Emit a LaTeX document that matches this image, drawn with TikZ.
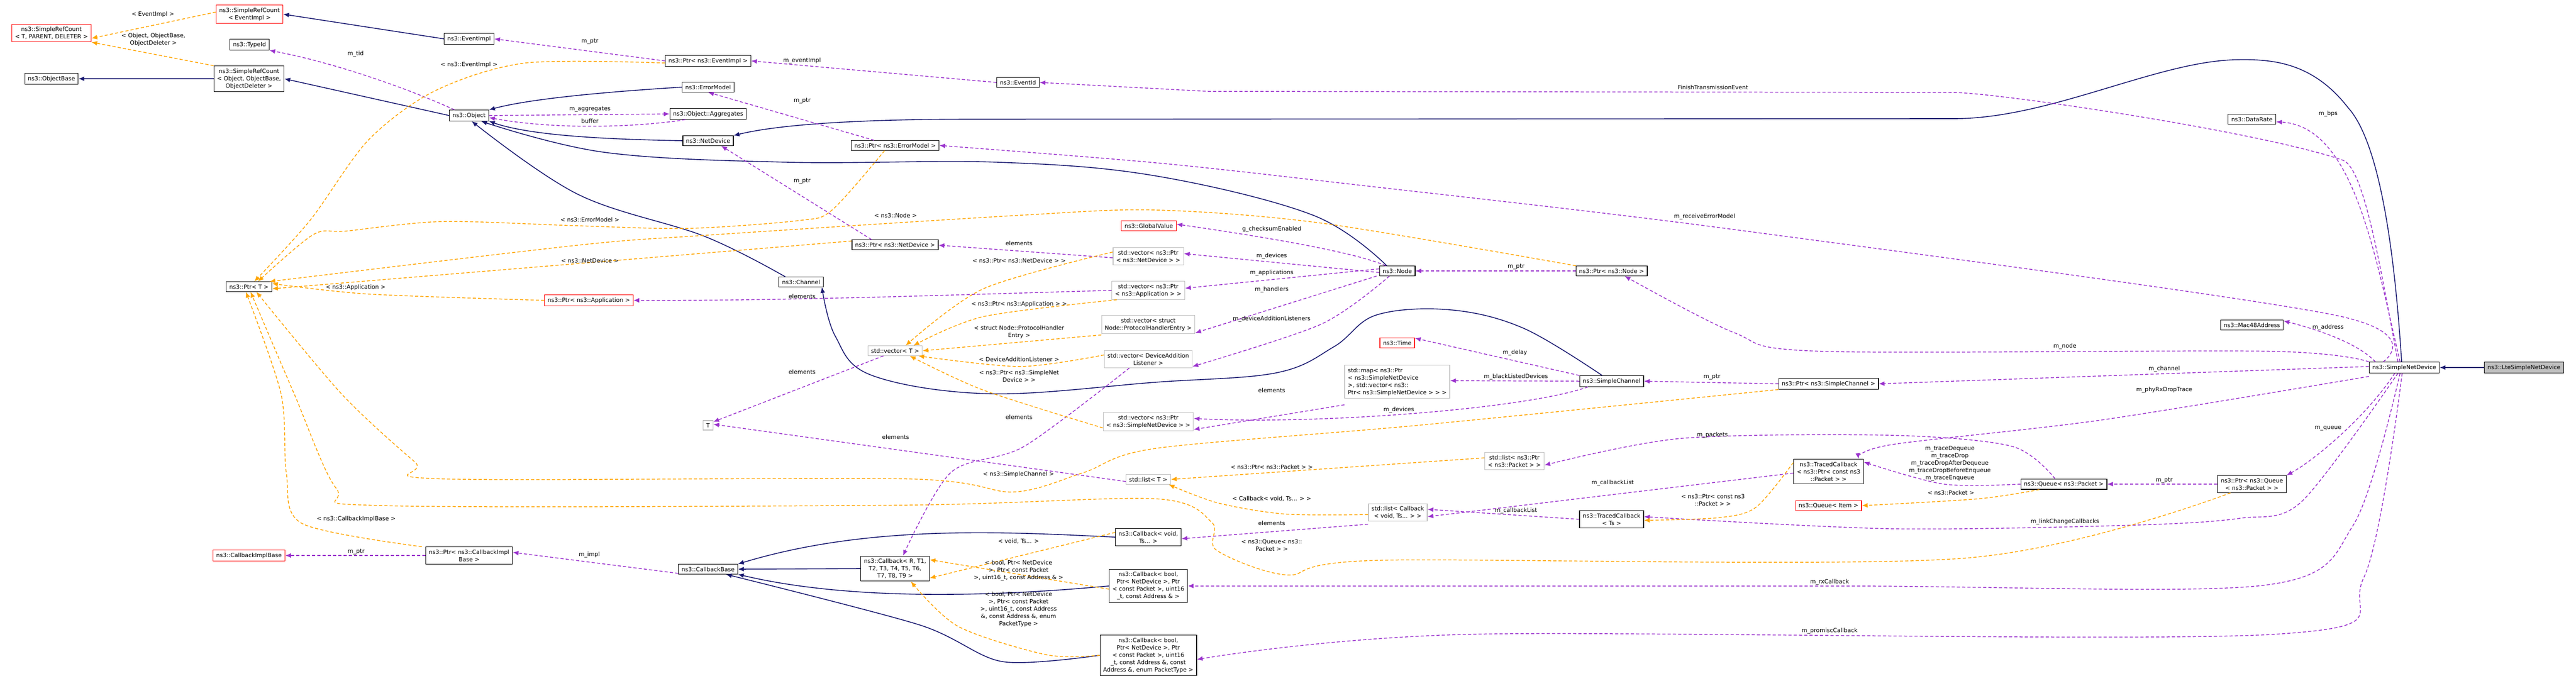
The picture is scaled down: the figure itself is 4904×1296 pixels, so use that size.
\documentclass[tikz,border=0pt]{standalone}
\usepackage{fontspec}
\setmainfont{DejaVu Sans}
\usetikzlibrary{arrows.meta}
\definecolor{inhc}{RGB}{25,25,112}
\definecolor{usec}{RGB}{154,50,205}
\definecolor{tplc}{RGB}{255,165,0}
\definecolor{grayb}{RGB}{191,191,191}
\begin{document}
\begin{tikzpicture}[x=1pt,y=-1pt,
  cls/.style={draw=black,fill=white,line width=1.2pt,inner xsep=6pt,inner ysep=5pt,font=\fontsize{11}{14}\selectfont,align=center},
  redb/.style={cls,draw=red},
  grb/.style={cls,draw=grayb},
  lbl/.style={font=\fontsize{11}{14}\selectfont,align=center,inner sep=1pt},
  inh/.style={draw=inhc,line width=1.6pt,-{Latex[length=11pt,width=9pt]}},
  use/.style={draw=usec,line width=1.5pt,dash pattern=on 6pt off 4pt,-{Latex[length=11pt,width=9pt]}},
  tpl/.style={draw=tplc,line width=1.5pt,dash pattern=on 6pt off 4pt,-{Latex[length=11pt,width=9pt]}}]
\useasboundingbox (0,0) rectangle (4904,1296);
% nodes
\node[redb] (srcT) at (98,63) {ns3::SimpleRefCount\\< T, PARENT, DELETER >};
\node[redb] (srcE) at (475,27) {ns3::SimpleRefCount\\< EventImpl >};
\node[cls] (typeid) at (475,85) {ns3::TypeId};
\node[cls] (objbase) at (98,150) {ns3::ObjectBase};
\node[cls] (srcO) at (474,150) {ns3::SimpleRefCount\\< Object, ObjectBase,\\ObjectDeleter >};
\node[cls] (eventimpl) at (893,74) {ns3::EventImpl};
\node[cls] (object) at (893,220) {ns3::Object};
\node[cls] (ptrT) at (474,546) {ns3::Ptr< T >};
\node[cls] (ptrEI) at (1348,116) {ns3::Ptr< ns3::EventImpl >};
\node[cls] (errmodel) at (1348,166) {ns3::ErrorModel};
\node[cls] (aggr) at (1348,217) {ns3::Object::Aggregates};
\node[cls] (netdev) at (1348,268) {ns3::NetDevice};
\node[cls] (ptrEM) at (1704,277) {ns3::Ptr< ns3::ErrorModel >};
\node[cls] (eventid) at (1938,157) {ns3::EventId};
\node[cls] (ptrND) at (1704,466) {ns3::Ptr< ns3::NetDevice >};
\node[cls] (channel) at (1525,537) {ns3::Channel};
\node[redb] (ptrApp) at (1121,572) {ns3::Ptr< ns3::Application >};
\node[grb] (vecT) at (1704,668) {std::vector< T >};
\node[grb] (T) at (1348,810) {T};
\node[redb] (globalv) at (2187,430) {ns3::GlobalValue};
\node[grb] (vecND) at (2186,488) {std::vector< ns3::Ptr\\< ns3::NetDevice > >};
\node[grb] (vecApp) at (2186,553) {std::vector< ns3::Ptr\\< ns3::Application > >};
\node[grb] (vecPH) at (2186,618) {std::vector< struct\\Node::ProtocolHandlerEntry >};
\node[grb] (vecDAL) at (2186,684) {std::vector< DeviceAddition\\Listener >};
\node[grb] (vecSND) at (2186,803) {std::vector< ns3::Ptr\\< ns3::SimpleNetDevice > >};
\node[cls] (node) at (2660,516) {ns3::Node};
\node[cls] (ptrNode) at (3068,516) {ns3::Ptr< ns3::Node >};
\node[redb] (time) at (2660,653) {ns3::Time};
\node[grb,align=left] (map) at (2660,727) {std::map< ns3::Ptr\\< ns3::SimpleNetDevice\\ >, std::vector< ns3::\\Ptr< ns3::SimpleNetDevice > > >};
\node[cls] (simplech) at (3068,726) {ns3::SimpleChannel};
\node[cls] (ptrSC) at (3481,731) {ns3::Ptr< ns3::SimpleChannel >};
\node[grb] (listPkt) at (2883,878) {std::list< ns3::Ptr\\< ns3::Packet > >};
\node[grb] (listT) at (2186,913) {std::list< T >};
\node[grb] (listCb) at (2661,976) {std::list< Callback\\< void, Ts... > >};
\node[cls] (tcTs) at (3068,989) {ns3::TracedCallback\\< Ts >};
\node[cls] (tcPkt) at (3481,898) {ns3::TracedCallback\\< ns3::Ptr< const ns3\\::Packet > >};
\node[redb] (queueItem) at (3481,963) {ns3::Queue< Item >};
\node[cls] (cbVoid) at (2186,1023) {ns3::Callback< void,\\Ts... >};
\node[cls] (cbBool4) at (2186,1116) {ns3::Callback< bool,\\Ptr< NetDevice >, Ptr\\< const Packet >, uint16\\\_t, const Address \& >};
\node[cls] (cbBool5) at (2186,1248) {ns3::Callback< bool,\\Ptr< NetDevice >, Ptr\\< const Packet >, uint16\\\_t, const Address \&, const\\Address \&, enum PacketType >};
\node[redb] (cbImplBase) at (474,1058) {ns3::CallbackImplBase};
\node[cls] (ptrCIB) at (893,1058) {ns3::Ptr< ns3::CallbackImpl\\Base >};
\node[cls] (cbBase) at (1348,1084) {ns3::CallbackBase};
\node[cls] (cbR) at (1704,1083) {ns3::Callback< R, T1,\\T2, T3, T4, T5, T6,\\T7, T8, T9 >};
\node[cls] (datarate) at (4287,227) {ns3::DataRate};
\node[cls] (mac48) at (4287,619) {ns3::Mac48Address};
\node[cls] (snd) at (4577,700) {ns3::SimpleNetDevice};
\node[cls,draw=black,fill=grayb] (lte) at (4805,700) {ns3::LteSimpleNetDevice};
\node[cls] (queuePkt) at (3929,922) {ns3::Queue< ns3::Packet >};
\node[cls] (ptrQ) at (4287,922) {ns3::Ptr< ns3::Queue\\< ns3::Packet > >};
% inheritance
\draw[inh] (eventimpl.west) -- (srcE.east);
\draw[inh] (srcO.west) -- (objbase.east);
\draw[inh] (object.west) -- (srcO.east);
\draw[inh] (errmodel.west) .. controls (1200,172) and (1020,185) .. (object.north east);
\draw[inh] (netdev.west) .. controls (1200,266) and (1020,262) .. (object.south east);
\draw[inh] plot[smooth,tension=0.6] coordinates {([xshift=-20]node.north) (2500,410) (2200,335) (1900,309) (1500,309) (1150,290) ([xshift=-15]object.south east)};
\draw[inh] plot[smooth,tension=0.6] coordinates {([xshift=-30]channel.north) (1341,450) (1100,370) ([xshift=-33]object.south east)};
\draw[inh] plot[smooth,tension=0.6] coordinates {([xshift=-18]simplech.north) (2900,625) (2760,590) (2620,600) (2540,660) (2430,710) (2200,728) (1886,750) (1660,715) (1590,640) ([xshift=-3]channel.south east)};
\draw[inh] ([xshift=-5]snd.north) .. controls (4555,420) and (4520,260) .. (4470,205) .. controls (4400,115) and (4320,112) .. (4250,114) .. controls (4100,120) and (3900,226) .. (3720,226) -- (1850,227) .. controls (1560,227) and (1450,245) .. (netdev.north east);
\draw[inh] (lte.west) -- (snd.east);
\draw[inh] (cbVoid.west) .. controls (1900,1012) and (1650,1000) .. (cbBase.north east);
\draw[inh] (cbR.west) -- (cbBase.east);
\draw[inh] (cbBool4.west) .. controls (1850,1140) and (1600,1140) .. (cbBase.south east);
\draw[inh] plot[smooth,tension=0.5] coordinates {(cbBool5.west) (1908,1260) (1750,1190) ([xshift=34]cbBase.south)};
% usage
\draw[use] (ptrEI.west) -- (eventimpl.east);
\draw[use] (eventid.west) -- (ptrEI.east);
\draw[use] ([xshift=-12]snd.north) .. controls (4530,500) and (4500,320) .. (4460,305) .. controls (4300,250) and (3800,176) .. (3716,176) -- (2300,174) -- (eventid.east);
\draw[use] ([xshift=-28]object.north) .. controls (780,170) and (640,120) .. (typeid.south east);
\draw[use] (object.east) -- (aggr.west);
\draw[use] ([xshift=30]aggr.south west) .. controls (1200,244) and (1050,246) .. ([yshift=-4]object.east);
\draw[use] ([xshift=-40]ptrEM.north) -- ([xshift=-50]errmodel.south east);
\draw[use] plot[smooth,tension=0.5] coordinates {([xshift=-40]snd.north) (4444,600) (3300,437) (2565,350) (2200,310) (ptrEM.east)};
\draw[use] ([xshift=-45]ptrND.north) -- ([xshift=25]netdev.south);
\draw[use] ([yshift=-3]vecND.west) -- ([yshift=-1]ptrND.east);
\draw[use] (vecApp.west) .. controls (1800,562) and (1500,573) .. (ptrApp.east);
\draw[use] ([xshift=-22]node.north) .. controls (2580,480) and (2400,450) .. ([yshift=3]globalv.east);
\draw[use] ([yshift=-3]node.west) -- ([yshift=5]vecND.east);
\draw[use] ([yshift=4]node.west) -- ([yshift=4]vecApp.east);
\draw[use] ([xshift=-5]node.south west) -- ([yshift=-16]vecPH.east);
\draw[use] plot[smooth,tension=0.5] coordinates {([xshift=-15]node.south) (2516,617) ([yshift=-14]vecDAL.east)};
\draw[use] (ptrNode.west) -- (node.east);
\draw[use] plot[smooth,tension=0.5] coordinates {(snd.north west) (4320,669) (3466,669) (3300,633) ([xshift=25]ptrNode.south)};
\draw[use] (simplech.north west) -- ([yshift=9]time.east);
\draw[use] (simplech.west) -- ([yshift=2]map.east);
\draw[use] ([yshift=-12]map.south west) -- ([yshift=-15]vecSND.east);
\draw[use] ([xshift=-45]simplech.south) .. controls (2900,780) and (2500,809) .. ([yshift=6]vecSND.east);
\draw[use] (ptrSC.west) -- (simplech.east);
\draw[use] ([yshift=2]snd.west) -- ([yshift=0]ptrSC.east);
\draw[use] ([xshift=30]vecT.south west) -- ([yshift=-3]T.north east);
\draw[use] ([yshift=-4]listT.west) -- ([yshift=2]T.east);
\draw[use] plot[smooth,tension=0.5] coordinates {([xshift=-36]vecDAL.south) (1950,850) (1810,900) ([xshift=15]cbR.north)};
\draw[use] plot[smooth,tension=0.5] coordinates {([xshift=-17]queuePkt.north) (3830,850) (3600,829) (3200,835) ([yshift=-8]listPkt.east)};
\draw[use] plot[smooth,tension=0.5] coordinates {([yshift=-6]snd.south west) (4000,800) (3600,847) ([xshift=-10]tcPkt.north east)};
\draw[use] plot[smooth,tension=0.5] coordinates {(queuePkt.west) (3700,922) ([yshift=18]tcPkt.east)};
\draw[use] ([yshift=-3]tcPkt.west) -- ([yshift=-8]listCb.east);
\draw[use] (tcTs.west) -- ([yshift=6]listCb.east);
\draw[use] plot[smooth,tension=0.5] coordinates {([xshift=-12]snd.south) (4382,955) (4265,987) (4066,1000) (3600,1007) ([yshift=5]tcTs.east)};
\draw[use] ([yshift=-5]listCb.south west) -- ([yshift=-3]cbVoid.east);
\draw[use] (ptrQ.west) -- (queuePkt.east);
\draw[use] ([xshift=-18]snd.south) .. controls (4500,800) and (4400,880) .. (ptrQ.north east);
\draw[use] plot[smooth,tension=0.5] coordinates {([xshift=-8]snd.south) (4480,1000) (4307,1115) (3500,1116) (cbBool4.east)};
\draw[use] plot[smooth,tension=0.5] coordinates {([xshift=-4]snd.south) (4500,1100) (4330,1208) (2800,1208) ([yshift=-8]cbBool5.east)};
\draw[use] ([xshift=-8]snd.north) .. controls (4520,480) and (4480,240) .. ([yshift=-5]datarate.east);
\draw[use] ([xshift=-55]snd.north) .. controls (4490,655) and (4420,630) .. ([yshift=8]mac48.east);
\draw[use] (ptrCIB.west) -- (cbImplBase.east);
\draw[use] ([yshift=-8]cbBase.west) -- ([yshift=6]ptrCIB.east);
% template
\draw[tpl] ([yshift=4]srcE.west) -- ([yshift=-10]srcT.east);
\draw[tpl] (srcO.north west) -- (srcT.south east);
\draw[tpl] plot[smooth,tension=0.5] coordinates {([yshift=-4]ptrEI.west) (1000,120) (828,173) (701,267) (590,420) ([xshift=10]ptrT.north)};
\draw[tpl] plot[smooth,tension=0.5] coordinates {([xshift=-20]ptrEM.south) (1584,400) (1521,420) (1310,435) (1100,430) (842,422) (660,440) (596,447) ([xshift=17]ptrT.north)};
\draw[tpl] plot[smooth,tension=0.5] coordinates {([xshift=-68]ptrNode.north) (2516,425) (2200,400) (1942,410) (1345,448) (1100,467) ([xshift=-5]ptrT.north east)};
\draw[tpl] ([yshift=7]ptrND.west) -- ([yshift=-4]ptrT.east);
\draw[tpl] plot[smooth,tension=0.5] coordinates {(ptrApp.west) (701,560) ([yshift=6]ptrT.east)};
\draw[tpl] plot[smooth,tension=0.5] coordinates {(ptrSC.south west) (2700,810) (2200,854) (2063,900) (1929,937) (1726,912) (842,912) (790,880) (650,750) ([xshift=14]ptrT.south)};
\draw[tpl] plot[smooth,tension=0.5] coordinates {([xshift=25]ptrQ.south west) (3741,1063) (2629,1067) (2450,1095) (2316,1048) (2307,995) (2200,950) (1726,962) (730,963) (640,930) (560,750) ([xshift=3]ptrT.south)};
\draw[tpl] plot[smooth,tension=0.5] coordinates {([xshift=-7]ptrCIB.north west) (575,997) (545,900) (535,750) ([xshift=-6]ptrT.south)};
\draw[tpl] plot[smooth,tension=0.5] coordinates {([yshift=8]vecND.west) (1872,550) ([xshift=20]vecT.north)};
\draw[tpl] plot[smooth,tension=0.5] coordinates {([xshift=10]vecApp.south west) (1872,603) ([xshift=35]vecT.north)};
\draw[tpl] ([yshift=-2]vecPH.south west) -- (vecT.east);
\draw[tpl] plot[smooth,tension=0.5] coordinates {([yshift=8]vecDAL.west) (1942,698) ([xshift=-8]vecT.south east)};
\draw[tpl] plot[smooth,tension=0.5] coordinates {([yshift=-12]vecSND.west) (1872,743) ([xshift=28]vecT.south)};
\draw[tpl] ([yshift=6]listPkt.west) -- (listT.east);
\draw[tpl] plot[smooth,tension=0.5] coordinates {([yshift=-4]listCb.west) (2446,979) (2319,958) ([xshift=-4]listT.south east)};
\draw[tpl] ([yshift=9]cbVoid.west) -- ([yshift=-18]cbR.east);
\draw[tpl] ([yshift=-6]cbBool4.west) -- ([yshift=17]cbR.east);
\draw[tpl] plot[smooth,tension=0.5] coordinates {(cbBool5.west) (1992,1247) (1824,1193) ([xshift=30]cbR.south)};
\draw[tpl] plot[smooth,tension=0.5] coordinates {([yshift=17]tcPkt.west) (3343,966) (3271,986) ([yshift=-2]tcTs.east)};
\draw[tpl] plot[smooth,tension=0.5] coordinates {([xshift=36]queuePkt.south west) (3766,950) (queueItem.east)};
% labels
\node[lbl] (l1) at (291,27) {< EventImpl >};
\node[lbl] (l2) at (292,75) {< Object, ObjectBase,\\ObjectDeleter >};
\node[lbl] (l3) at (677,103) {m\_tid};
\node[lbl] (l4) at (893,123) {< ns3::EventImpl >};
\node[lbl] (l5) at (1123,79) {m\_ptr};
\node[lbl] (l6) at (1527,116) {m\_eventImpl};
\node[lbl] (l7) at (3261,166) {FinishTransmissionEvent};
\node[lbl] (l8) at (1123,208) {m\_aggregates};
\node[lbl] (l9) at (1123,230) {buffer};
\node[lbl] (l10) at (1527,192) {m\_ptr};
\node[lbl] (l11) at (1527,345) {m\_ptr};
\node[lbl] (l12) at (1123,418) {< ns3::ErrorModel >};
\node[lbl] (l13) at (1705,410) {< ns3::Node >};
\node[lbl] (l14) at (1123,496) {< ns3::NetDevice >};
\node[lbl] (l15) at (677,547) {< ns3::Application >};
\node[lbl] (l16) at (1940,463) {elements};
\node[lbl] (l17) at (1940,496) {< ns3::Ptr< ns3::NetDevice > >};
\node[lbl] (l18) at (1527,564) {elements};
\node[lbl] (l19) at (1940,579) {< ns3::Ptr< ns3::Application > >};
\node[lbl] (l20) at (1940,632) {< struct Node::ProtocolHandler\\Entry >};
\node[lbl] (l21) at (1940,684) {< DeviceAdditionListener >};
\node[lbl] (l22) at (1940,716) {< ns3::Ptr< ns3::SimpleNet\\Device > >};
\node[lbl] (l23) at (1527,708) {elements};
\node[lbl] (l24) at (1940,794) {elements};
\node[lbl] (l25) at (1705,832) {elements};
\node[lbl] (l26) at (2421,437) {g\_checksumEnabled};
\node[lbl] (l27) at (2421,488) {m\_devices};
\node[lbl] (l28) at (2421,520) {m\_applications};
\node[lbl] (l29) at (2421,552) {m\_handlers};
\node[lbl] (l30) at (2421,608) {m\_deviceAdditionListeners};
\node[lbl] (l31) at (2886,508) {m\_ptr};
\node[lbl] (l32) at (3245,413) {m\_receiveErrorModel};
\node[lbl] (l33) at (2884,672) {m\_delay};
\node[lbl] (l34) at (2886,718) {m\_blackListedDevices};
\node[lbl] (l35) at (3259,718) {m\_ptr};
\node[lbl] (l36) at (2421,743) {elements};
\node[lbl] (l37) at (2663,781) {m\_devices};
\node[lbl] (l38) at (3260,829) {m\_packets};
\node[lbl] (l39) at (2421,889) {< ns3::Ptr< ns3::Packet > >};
\node[lbl] (l40) at (3070,920) {m\_callbackList};
\node[lbl] (l41) at (3261,952) {< ns3::Ptr< const ns3\\::Packet > >};
\node[lbl] (l42) at (2421,950) {< Callback< void, Ts... > >};
\node[lbl] (l43) at (2886,973) {m\_callbackList};
\node[lbl] (l44) at (2421,996) {elements};
\node[lbl] (l45) at (2421,1038) {< ns3::Queue< ns3::\\Packet > >};
\node[lbl] (l46) at (3483,1109) {m\_rxCallback};
\node[lbl] (l47) at (3483,1202) {m\_promiscCallback};
\node[lbl] (l48) at (678,988) {< ns3::CallbackImplBase >};
\node[lbl] (l49) at (678,1051) {m\_ptr};
\node[lbl] (l50) at (1122,1057) {m\_impl};
\node[lbl] (l51) at (1939,1031) {< void, Ts... >};
\node[lbl] (l52) at (1939,1087) {< bool, Ptr< NetDevice\\>, Ptr< const Packet\\>, uint16\_t, const Address \& >};
\node[lbl] (l53) at (1939,1160) {< bool, Ptr< NetDevice\\>, Ptr< const Packet\\>, uint16\_t, const Address\\\&, const Address \&, enum\\PacketType >};
\node[lbl] (l54) at (1939,903) {< ns3::SimpleChannel >};
\node[lbl] (l55) at (4432,217) {m\_bps};
\node[lbl] (l56) at (4432,624) {m\_address};
\node[lbl] (l57) at (3931,660) {m\_node};
\node[lbl] (l58) at (4120,703) {m\_channel};
\node[lbl] (l59) at (4120,743) {m\_phyRxDropTrace};
\node[lbl] (l60) at (4432,816) {m\_queue};
\node[lbl] (l61) at (3712,883) {m\_traceDequeue\\m\_traceDrop\\m\_traceDropAfterDequeue\\m\_traceDropBeforeEnqueue\\m\_traceEnqueue};
\node[lbl] (l62) at (4120,915) {m\_ptr};
\node[lbl] (l63) at (3714,938) {< ns3::Packet >};
\node[lbl] (l64) at (3931,994) {m\_linkChangeCallbacks};
\end{tikzpicture}
\end{document}
